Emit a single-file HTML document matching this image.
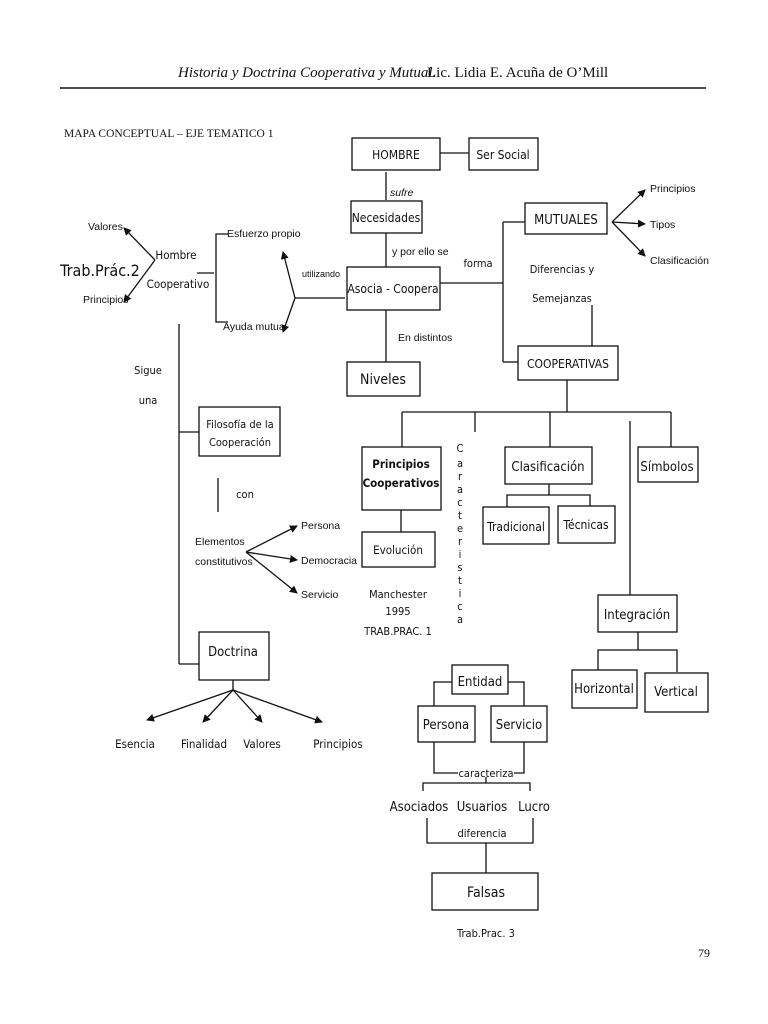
<!DOCTYPE html>
<html><head><meta charset="utf-8"><style>
html,body{margin:0;padding:0;background:#fff}
svg{display:block}
.s{font-family:"DejaVu Sans Condensed","Liberation Sans Narrow","Liberation Sans",sans-serif;fill:#111}
.a{font-family:"Liberation Sans Narrow","Liberation Sans",sans-serif;fill:#111}
.r{font-family:"Liberation Serif",serif;fill:#111}
</style></head><body>
<svg width="768" height="1024" viewBox="0 0 768 1024" xmlns="http://www.w3.org/2000/svg">
<defs><marker id="m" markerWidth="8" markerHeight="8" refX="7" refY="4" orient="auto" markerUnits="userSpaceOnUse"><path d="M0,0 L8,4 L0,8 z" fill="#111"/></marker></defs>
<rect width="768" height="1024" fill="#fff"/>
<text x="178" y="77" class="r" font-size="15" font-style="italic">Historia y Doctrina Cooperativa y Mutual.</text>
<text x="427" y="77" class="r" font-size="15">Lic. Lidia E. Acuña de O’Mill</text>
<line x1="60" y1="88" x2="706" y2="88" stroke="#111" stroke-width="1.5"/>
<text x="64" y="137" class="r" font-size="11.5">MAPA CONCEPTUAL – EJE TEMATICO 1</text>
<text x="698" y="957" class="r" font-size="12">79</text>
<g fill="none" stroke="#111" stroke-width="1.3">
<rect x="352" y="138" width="88" height="32"/><rect x="469" y="138" width="69" height="32"/>
<line x1="440" y1="153" x2="469" y2="153"/>
<line x1="386" y1="172" x2="386" y2="200"/>
<rect x="351" y="201" width="71" height="32"/>
<line x1="386" y1="233" x2="386" y2="267"/>
<rect x="347" y="267" width="93" height="43"/>
<line x1="386" y1="310" x2="386" y2="362"/>
<rect x="347" y="362" width="73" height="34"/>
<line x1="440" y1="283" x2="503" y2="283"/>
<line x1="503" y1="222" x2="503" y2="362"/>
<line x1="503" y1="222" x2="525" y2="222"/><line x1="503" y1="362" x2="518" y2="362"/>
<rect x="525" y="203" width="82" height="31"/>
<rect x="518" y="346" width="100" height="34"/>
<line x1="592" y1="305" x2="592" y2="346"/>
<line x1="612" y1="222" x2="645" y2="190" marker-end="url(#m)"/>
<line x1="612" y1="222" x2="645" y2="224" marker-end="url(#m)"/>
<line x1="612" y1="222" x2="645" y2="256" marker-end="url(#m)"/>
<line x1="295" y1="298" x2="345" y2="298"/>
<line x1="295" y1="298" x2="283" y2="252" marker-end="url(#m)"/>
<line x1="295" y1="298" x2="283" y2="332" marker-end="url(#m)"/>
<polyline points="228,234 216,234 216,322 228,322"/>
<line x1="197" y1="273" x2="214" y2="273"/>
<line x1="155" y1="260" x2="124" y2="228" marker-end="url(#m)"/>
<line x1="155" y1="260" x2="124" y2="302" marker-end="url(#m)"/>
<line x1="179" y1="324" x2="179" y2="664"/>
<line x1="179" y1="432" x2="199" y2="432"/>
<rect x="199" y="407" width="81" height="49"/>
<line x1="218" y1="478" x2="218" y2="512"/>
<line x1="246" y1="552" x2="297" y2="526" marker-end="url(#m)"/>
<line x1="246" y1="552" x2="297" y2="560" marker-end="url(#m)"/>
<line x1="246" y1="552" x2="297" y2="593" marker-end="url(#m)"/>
<line x1="179" y1="664" x2="199" y2="664"/>
<rect x="199" y="632" width="70" height="48"/>
<line x1="233" y1="680" x2="233" y2="690"/>
<line x1="233" y1="690" x2="147" y2="720" marker-end="url(#m)"/>
<line x1="233" y1="690" x2="203" y2="722" marker-end="url(#m)"/>
<line x1="233" y1="690" x2="262" y2="722" marker-end="url(#m)"/>
<line x1="233" y1="690" x2="322" y2="722" marker-end="url(#m)"/>
<line x1="567" y1="380" x2="567" y2="412"/>
<line x1="402" y1="412" x2="671" y2="412"/>
<line x1="402" y1="412" x2="402" y2="447"/><line x1="475" y1="412" x2="475" y2="432"/>
<line x1="550" y1="412" x2="550" y2="447"/><line x1="671" y1="412" x2="671" y2="447"/>
<line x1="630" y1="421" x2="630" y2="595"/>
<rect x="362" y="447" width="79" height="63"/>
<line x1="401" y1="510" x2="401" y2="532"/>
<rect x="362" y="532" width="73" height="35"/>
<rect x="505" y="447" width="87" height="37"/>
<rect x="638" y="447" width="60" height="35"/>
<line x1="549" y1="484" x2="549" y2="495"/>
<polyline points="507,507 507,495 590,495 590,506"/>
<rect x="483" y="507" width="66" height="37"/><rect x="558" y="506" width="57" height="37"/>
<rect x="598" y="595" width="79" height="37"/>
<line x1="638" y1="632" x2="638" y2="650"/>
<polyline points="598,670 598,650 677,650 677,672"/>
<rect x="572" y="670" width="65" height="38"/><rect x="645" y="673" width="63" height="39"/>
<rect x="452" y="665" width="56" height="29"/>
<polyline points="452,682 434,682 434,706"/><polyline points="508,682 524,682 524,706"/>
<rect x="418" y="706" width="57" height="36"/><rect x="491" y="706" width="56" height="36"/>
<polyline points="434,742 434,773 458,773"/><polyline points="514,773 524,773 524,742"/>
<line x1="486" y1="777" x2="486" y2="783"/>
<polyline points="423,791 423,783 530,783 530,791"/>
<polyline points="427,818 427,843 533,843 533,818"/>
<line x1="486" y1="843" x2="486" y2="873"/>
<rect x="432" y="873" width="106" height="37"/>
</g>
<g class="s" font-size="12" text-anchor="middle">
<text x="396" y="159">HOMBRE</text><text x="503" y="159">Ser Social</text>
<text x="386" y="222">Necesidades</text>
<text x="393" y="293">Asocia - Coopera</text>
<text x="383" y="384" font-size="14">Niveles</text>
<text x="566" y="224" font-size="13">MUTUALES</text>
<text x="568" y="368">COOPERATIVAS</text>
<text x="562" y="273" font-size="11">Diferencias y</text>
<text x="562" y="302" font-size="11">Semejanzas</text>
<text x="478" y="267" font-size="11">forma</text>
<text x="176" y="259" font-size="11.5">Hombre</text>
<text x="178" y="288" font-size="11.5">Cooperativo</text>
<text x="100" y="276" font-size="16" text-anchor="middle">Trab.Prác.2</text>
<text x="148" y="374" font-size="11">Sigue</text><text x="148" y="404" font-size="11">una</text>
<text x="240" y="428" font-size="11">Filosofía de la</text><text x="240" y="446" font-size="11">Cooperación</text>
<text x="245" y="498" font-size="11">con</text>
<text x="233" y="656" font-size="13">Doctrina</text>
<text x="135" y="748" font-size="11.5">Esencia</text><text x="204" y="748" font-size="11.5">Finalidad</text>
<text x="262" y="748" font-size="11.5">Valores</text><text x="338" y="748" font-size="11.5">Principios</text>
<text x="401" y="468" font-weight="bold" font-size="11.5">Principios</text>
<text x="401" y="487" font-weight="bold" font-size="11.5">Cooperativos</text>
<text x="398" y="554" font-size="11.5">Evolución</text>
<text x="398" y="598" font-size="11">Manchester</text><text x="398" y="615" font-size="11">1995</text><text x="398" y="635" font-size="11">TRAB.PRAC. 1</text>
<text x="548" y="471" font-size="13">Clasificación</text>
<text x="667" y="471" font-size="13">Símbolos</text>
<text x="516" y="531">Tradicional</text><text x="586" y="529">Técnicas</text>
<text x="637" y="619" font-size="13">Integración</text>
<text x="604" y="693" font-size="13">Horizontal</text><text x="676" y="696" font-size="13">Vertical</text>
<text x="480" y="686" font-size="13">Entidad</text>
<text x="446" y="729" font-size="13">Persona</text><text x="519" y="729" font-size="13">Servicio</text>
<text x="486" y="777" font-size="11">caracteriza</text>
<text x="419" y="811" font-size="13">Asociados</text><text x="482" y="811" font-size="13">Usuarios</text><text x="534" y="811" font-size="13">Lucro</text>
<text x="482" y="837" font-size="11">diferencia</text>
<text x="486" y="897" font-size="14">Falsas</text>
<text x="486" y="937" font-size="11">Trab.Prac. 3</text>
</g>
<g class="s" font-size="11" text-anchor="middle">
<text x="460" y="452">C</text><text x="460" y="467">a</text><text x="460" y="480">r</text><text x="460" y="493">a</text><text x="460" y="506">c</text><text x="460" y="519">t</text><text x="460" y="532">e</text><text x="460" y="545">r</text><text x="460" y="558">i</text><text x="460" y="571">s</text><text x="460" y="584">t</text><text x="460" y="597">i</text><text x="460" y="610">c</text><text x="460" y="623">a</text>
</g>
<g class="a" font-size="10.5">
<text x="390" y="196" font-style="italic">sufre</text>
<text x="392" y="255">y por ello se</text>
<text x="398" y="341">En distintos</text>
<text x="302" y="277" font-size="9">utilizando</text>
<text x="227" y="237">Esfuerzo propio</text>
<text x="223" y="330">Ayuda mutua</text>
<text x="88" y="230">Valores</text>
<text x="83" y="303">Principios</text>
<text x="650" y="192">Principios</text>
<text x="650" y="228">Tipos</text>
<text x="650" y="264">Clasificación</text>
<text x="195" y="545">Elementos</text><text x="195" y="565">constitutivos</text>
<text x="301" y="529">Persona</text><text x="301" y="564">Democracia</text><text x="301" y="598">Servicio</text>
</g>
</svg>
</body></html>
